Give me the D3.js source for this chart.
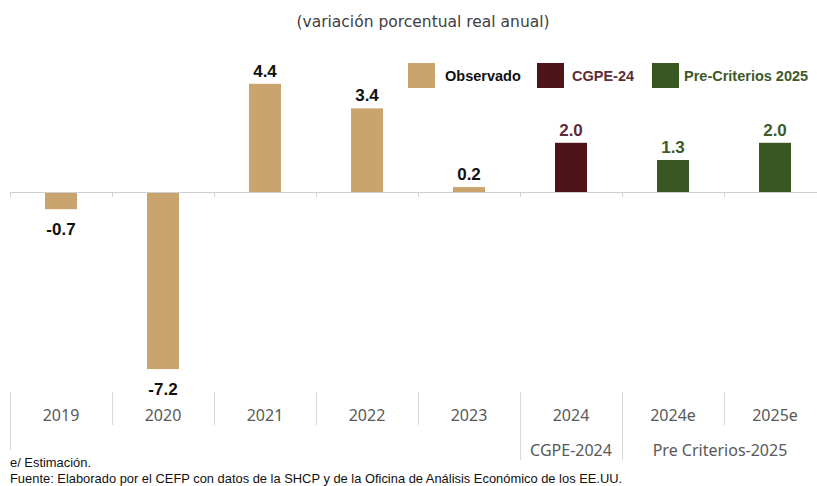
<!DOCTYPE html>
<html><head><meta charset="utf-8">
<script src="https://cdn.jsdelivr.net/npm/d3@7"></script>
<style>body{margin:0;background:#fff}svg{display:block}</style>
</head><body>
<svg id="c" width="817" height="486"></svg>
<script>
const categories = ["2019","2020","2021","2022","2023","2024","2024e","2025e"];
const values = [-0.7,-7.2,4.4,3.4,0.2,2.0,1.3,2.0];
const seriesOf = ["Observado","Observado","Observado","Observado","Observado","CGPE-24","Pre-Criterios 2025","Pre-Criterios 2025"];
const seriesNames = ["Observado","CGPE-24","Pre-Criterios 2025"];
const seriesColors = ["#c9a46e","#4f1419","#385723"];
const labelColors = ["#111111","#5e2d36","#3e5a28"];
const groupLabels = ["CGPE-2024","Pre Criterios-2025"];
const groupFirst = ["2024","2024e"];
const groupLast = ["2024","2025e"];
const title = "(variación porcentual real anual)";
const notes = ["e/ Estimación.","Fuente: Elaborado por el CEFP con datos de la SHCP y de la Oficina de Análisis Económico de los EE.UU."];

const svg = d3.select("#c");
const x = d3.scaleBand().domain(categories).range([10, 826]).paddingInner(0).paddingOuter(0);
const y = d3.scaleLinear().domain([-8, 5]).range([192 + 8*24.6, 192 - 5*24.6]);
const col = d3.scaleOrdinal().domain(seriesNames).range(seriesColors);
const lcol = d3.scaleOrdinal().domain(seriesNames).range(labelColors);
const data = categories.map((c,i)=>({c, v:values[i], s:seriesOf[i]}));
const bw = 32;
const fmt = v => d3.format(".1f")(v).replace("\u2212","-");

svg.append("text").attr("x",423).attr("y",27).attr("text-anchor","middle")
  .attr("font-family","'DejaVu Sans', sans-serif").attr("font-size",15.5).attr("fill","#404040").text(title);

// bars
svg.selectAll("rect.bar").data(data).join("rect").attr("class","bar")
  .attr("x",d=>x(d.c)+x.bandwidth()/2-bw/2).attr("width",bw)
  .attr("y",d=>y(Math.max(0,d.v))).attr("height",d=>Math.abs(y(d.v)-y(0)))
  .attr("fill",d=>col(d.s));

// zero axis
svg.append("line").attr("x1",10).attr("x2",817).attr("y1",y(0)+0.5).attr("y2",y(0)+0.5).attr("stroke","#d0d0d0").attr("stroke-width",1);
categories.forEach(c=>{
  const xx = Math.round(x(c))+0.5;
  svg.append("line").attr("x1",xx).attr("x2",xx).attr("y1",y(0)).attr("y2",y(0)+5).attr("stroke","#d0d0d0");
});

// value labels
svg.selectAll("text.val").data(data).join("text").attr("class","val")
  .attr("x",d=>x(d.c)+x.bandwidth()/2).attr("text-anchor","middle")
  .attr("y",d=>d.v>=0 ? y(d.v)-7 : y(d.v)+26)
  .attr("font-family","'Liberation Sans', Arial, sans-serif").attr("font-weight","bold").attr("font-size",17)
  .attr("fill",d=>lcol(d.s)).text(d=>fmt(d.v));

// category axis labels
const gAx = svg.append("g");
categories.forEach((c,i)=>{
  gAx.append("text").attr("x",x(c)+x.bandwidth()/2).attr("y",421).attr("text-anchor","middle")
    .attr("font-family","'Noto Sans', sans-serif").attr("font-size",16).attr("fill","#595959").text(c);
  const xx = Math.round(x(c))+0.5;
  const isGroupEdge = groupFirst.includes(c);
  const isFirst = i===0;
  gAx.append("line").attr("x1",xx).attr("x2",xx).attr("y1",392)
    .attr("y2", isGroupEdge ? 460 : (isFirst ? 450 : 425)).attr("stroke","#d9d9d9");
});
groupLabels.forEach((g,i)=>{
  const x0 = x(groupFirst[i]), x1 = x(groupLast[i])+x.bandwidth();
  gAx.append("text").attr("x",(x0+x1)/2 - (i===1?4:0)).attr("y",456).attr("text-anchor","middle")
    .attr("font-family","'Noto Sans', sans-serif").attr("font-size",16).attr("fill","#595959").text(g);
});

// legend
const legX = [408,537,652];
const legTextDx = [37,35,32];
seriesNames.forEach((s,i)=>{
  svg.append("rect").attr("x",legX[i]).attr("y",63).attr("width",27).attr("height",25).attr("fill",seriesColors[i]);
  svg.append("text").attr("x",legX[i]+legTextDx[i]).attr("y",81)
    .attr("font-family","'Liberation Sans', Arial, sans-serif").attr("font-weight","bold").attr("font-size",14.5)
    .attr("fill", i===0 ? "#111" : labelColors[i]).text(s);
});

// notes
notes.forEach((n,i)=>{
  svg.append("text").attr("x",10).attr("y",467+i*16)
    .attr("font-family","'Liberation Sans', Arial, sans-serif").attr("font-size",12.9).attr("fill","#111").text(n);
});
</script>
</body></html>
